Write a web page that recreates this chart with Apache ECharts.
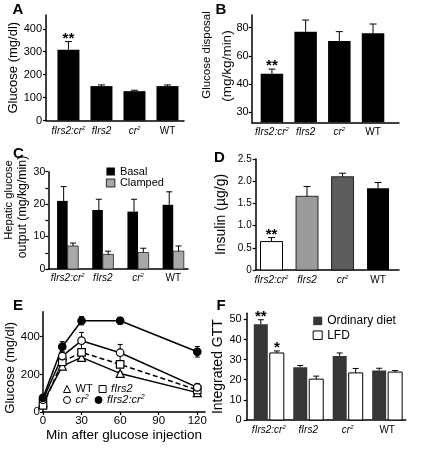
<!DOCTYPE html>
<html><head><meta charset="utf-8">
<script src="https://cdn.jsdelivr.net/npm/echarts@6/dist/echarts.min.js"></script>
<style>html,body{margin:0;padding:0;background:#fff}#c{width:428px;height:450px}</style>
</head><body><div id="c"></div>
<script>
// ---------- data ----------
const categories = ['fIrs2:cr2', 'fIrs2', 'cr2', 'WT'];

// A: fasting glucose (mg/dl)
const glucoseA = [309, 150, 128, 150];
const glucoseAErr = [35, 5, 4, 5];
const starsA = ['**', '', '', ''];
const ticksA = [0, 100, 200, 300, 400];

// B: glucose disposal (mg/kg/min)
const disposalB = [47.3, 77.2, 70.6, 76.0];
const disposalBErr = [3.3, 8.2, 6.6, 6.6];
const starsB = ['**', '', '', ''];
const tickValuesB = [20, 40, 60, 80];
const tickLabelsB = ['30', '40', '60', '80'];

// C: hepatic glucose output
const basalC = [21.0, 18.2, 17.7, 19.8];
const basalCErr = [4.4, 3.3, 3.8, 4.0];
const clampedC = [7.1, 4.5, 5.1, 5.5];
const clampedCErr = [0.9, 1.0, 1.3, 1.6];
const ticksC = [0, 10, 20, 30];
const minorTicksC = [0, 5, 10, 15, 20, 25, 30];

// D: insulin (ug/g)
const insulinD = [0.64, 1.66, 2.10, 1.84];
const insulinDErr = [0.09, 0.22, 0.08, 0.13];
const starsD = ['**', '', '', ''];
const ticksD = [0, 0.5, 1.0, 1.5, 2.0, 2.5];

// E: GTT time course
const timesE = [0, 15, 30, 60, 120];
const wtE = [50, 244, 290, 205, 103];
const wtEErr = [8, 8, 10, 8, 8];
const fIrs2E = [35, 267, 317, 253, 117];
const fIrs2EErr = [8, 10, 10, 10, 8];
const cr2E = [65, 297, 379, 315, 131];
const cr2EErr = [10, 15, 44, 44, 21];
const fIrs2cr2E = [75, 347, 485, 485, 320];
const fIrs2cr2EErr = [10, 27, 22, 18, 28];
const ticksEx = [0, 30, 60, 90, 120];
const ticksEy = [0, 200, 400];

// F: integrated GTT
const ordinaryF = [47.5, 26.2, 31.8, 24.6];
const ordinaryFErr = [2.3, 0.9, 1.5, 1.1];
const lfdF = [33.3, 20.3, 23.4, 23.8];
const lfdFErr = [1.0, 1.5, 2.2, 0.8];
const starsF1 = ['**', '', '', ''];
const starsF2 = ['*', '', '', ''];
const ticksF = [0, 10, 20, 30, 40, 50];

// ---------- helpers ----------
const FONT = '"Liberation Sans", Arial, Helvetica, sans-serif';
function richName(name) {
  if (name === 'WT') return '{n|WT}';
  if (name.endsWith('cr2')) return '{i|' + name.slice(0, -1) + '}{s|2}';
  return '{i|' + name + '}';
}
function richStyle(fs) {
  return {
    n: { fontSize: fs, fontFamily: FONT, color: '#000', lineHeight: fs + 2 },
    i: { fontSize: fs, fontFamily: FONT, fontStyle: 'italic', color: '#000', lineHeight: fs + 2 },
    s: { fontSize: Math.round(fs * 0.62), fontFamily: FONT, fontStyle: 'italic', color: '#000', lineHeight: 7, verticalAlign: 'top' }
  };
}
const AX_LINE = { show: true, onZero: false, lineStyle: { color: '#000', width: 1.5 } };

function catXAxis(gi, min, max, margin) {
  return {
    type: 'value', gridIndex: gi, min: min, max: max,
    axisLine: AX_LINE, axisTick: { show: false }, splitLine: { show: false },
    axisLabel: {
      customValues: [0, 1, 2, 3], margin: margin,
      formatter: v => richName(categories[Math.round(v)]), rich: richStyle(10)
    }
  };
}
function valYAxis(gi, min, max, ticks, opt) {
  return {
    type: 'value', gridIndex: gi, min: min, max: max,
    axisLine: AX_LINE,
    axisTick: { show: true, length: 3, lineStyle: { color: '#000', width: 1.2 }, customValues: opt.tickValues || ticks },
    splitLine: { show: false },
    axisLabel: {
      customValues: ticks, margin: opt.margin, fontSize: opt.fs || 11, color: '#000', fontFamily: FONT,
      formatter: opt.formatter || (v => String(v))
    },
    name: opt.name || '', nameLocation: 'middle', nameGap: opt.nameGap || 20,
    nameTextStyle: Object.assign({ fontSize: 13, color: '#000', fontFamily: FONT }, opt.nameStyle || {})
  };
}
function barSeries(gi, values, o) {
  return {
    type: 'custom', name: o.name, xAxisIndex: gi, yAxisIndex: gi, z: 2, silent: true,
    itemStyle: { color: o.fill, borderColor: o.stroke || o.fill, borderWidth: o.lw || 0 },
    data: values.map((v, i) => [i, v]),
    renderItem: (p, api) => {
      const x = api.value(0), v = api.value(1);
      const top = api.coord([x, v]), bot = api.coord([x, o.base]);
      return {
        type: 'rect',
        shape: { x: top[0] + o.offset - o.width / 2, y: top[1], width: o.width, height: bot[1] - top[1] },
        style: { fill: o.fill, stroke: o.stroke || null, lineWidth: o.lw || 0 }
      };
    }
  };
}
function errUp(gi, values, errs, offset, cap) {
  return {
    type: 'custom', xAxisIndex: gi, yAxisIndex: gi, z: 3, silent: true,
    data: values.map((v, i) => [i, v, errs[i]]),
    renderItem: (p, api) => {
      const x = api.value(0), v = api.value(1), e = api.value(2);
      const a = api.coord([x, v]), b = api.coord([x, v + e]);
      const cx = a[0] + offset;
      return {
        type: 'group', children: [
          { type: 'line', shape: { x1: cx, y1: a[1], x2: cx, y2: b[1] }, style: { stroke: '#000', lineWidth: 1 } },
          { type: 'line', shape: { x1: cx - cap / 2, y1: b[1], x2: cx + cap / 2, y2: b[1] }, style: { stroke: '#000', lineWidth: 1 } }
        ]
      };
    }
  };
}
function starSeries(gi, marks, values, errs, offset) {
  return {
    type: 'custom', xAxisIndex: gi, yAxisIndex: gi, z: 4, silent: true,
    data: values.map((v, i) => [i, v + errs[i]]),
    renderItem: (p, api) => {
      const m = marks[p.dataIndex];
      if (!m) return null;
      const c = api.coord([api.value(0), api.value(1)]);
      return {
        type: 'text', x: c[0] + offset, y: c[1] - 3,
        style: { text: m, fontSize: 15, fontWeight: 'bold', fontFamily: FONT, fill: '#000', align: 'center', verticalAlign: 'middle' }
      };
    }
  };
}
function errBoth(values, errs) {
  return {
    type: 'custom', xAxisIndex: 4, yAxisIndex: 4, z: 1, silent: true,
    data: timesE.map((t, i) => [t, values[i], errs[i]]),
    renderItem: (p, api) => {
      const t = api.value(0), v = api.value(1), e = api.value(2);
      const a = api.coord([t, v - e]), b = api.coord([t, v + e]);
      const cx = a[0], cap = 5;
      return {
        type: 'group', children: [
          { type: 'line', shape: { x1: cx, y1: a[1], x2: cx, y2: b[1] }, style: { stroke: '#000', lineWidth: 1 } },
          { type: 'line', shape: { x1: cx - cap / 2, y1: a[1], x2: cx + cap / 2, y2: a[1] }, style: { stroke: '#000', lineWidth: 1 } },
          { type: 'line', shape: { x1: cx - cap / 2, y1: b[1], x2: cx + cap / 2, y2: b[1] }, style: { stroke: '#000', lineWidth: 1 } }
        ]
      };
    }
  };
}
function lineSeries(name, values, symbol, fill, dashed) {
  return {
    type: 'line', name: name, xAxisIndex: 4, yAxisIndex: 4, z: 2, silent: true,
    data: timesE.map((t, i) => [t, values[i]]),
    symbol: symbol, symbolSize: symbol === 'triangle' ? 8 : 7.5, showAllSymbol: true,
    itemStyle: { color: fill, borderColor: '#000', borderWidth: 1.2 },
    lineStyle: { color: '#000', width: 1.5, type: dashed ? [5, 3] : 'solid' },
    animation: false
  };
}
function letter(t, x, y) {
  return { type: 'text', x: x, y: y, style: { text: t, fontSize: 15, fontWeight: 'bold', fontFamily: FONT, fill: '#000', verticalAlign: 'middle' } };
}
function vtitle(t, x, y, fs) {
  return {
    type: 'text', x: x, y: y, rotation: Math.PI / 2,
    style: { text: t, fontSize: fs, fontFamily: FONT, fill: '#000', align: 'center', verticalAlign: 'middle' }
  };
}

// ---------- chart ----------
const chart = echarts.init(document.getElementById('c'), null, { renderer: 'canvas' });
const option = {
  animation: false,
  backgroundColor: '#fff',
  textStyle: { fontFamily: FONT },
  grid: [
    { left: 46, top: 15, width: 138, height: 105.5 },        // A
    { left: 251.7, top: 15, width: 147.3, height: 107.3 },   // B
    { left: 48.3, top: 171.7, width: 139.7, height: 97.3 },  // C
    { left: 255.7, top: 159, width: 143.3, height: 111 },    // D
    { left: 43, top: 311.7, width: 162, height: 100.3 },     // E
    { left: 246.7, top: 313.3, width: 159, height: 106.7 }   // F
  ],
  xAxis: [
    catXAxis(0, -0.68, 3.5, 5),
    catXAxis(1, -0.6, 3.77, 4),
    catXAxis(2, -0.55, 3.42, 3),
    catXAxis(3, -0.445, 3.59, 4),
    {
      type: 'value', gridIndex: 4, min: 0, max: 126,
      axisLine: AX_LINE, splitLine: { show: false },
      axisTick: { show: true, length: 3, lineStyle: { color: '#000', width: 1.2 }, customValues: ticksEx },
      axisLabel: { customValues: ticksEx, margin: 3, fontSize: 11.5, color: '#000', fontFamily: FONT },
      name: 'Min after glucose injection', nameLocation: 'middle', nameGap: 15,
      nameTextStyle: { fontSize: 13.5, color: '#000', fontFamily: FONT }
    },
    catXAxis(5, -0.56, 3.47, 4)
  ],
  yAxis: [
    valYAxis(0, 0, 460, ticksA, { margin: 4, fs: 11, name: 'Glucose (mg/dl)', nameGap: 23 }),
    valYAxis(1, 12.9, 89, tickValuesB, {
      margin: 3, fs: 11, formatter: v => tickLabelsB[tickValuesB.indexOf(v)]
    }),
    valYAxis(2, 0, 30, ticksC, { margin: 3, fs: 10.5, tickValues: minorTicksC }),
    valYAxis(3, 0, 2.5, ticksD, {
      margin: 4, fs: 10, formatter: v => (v === 0 ? '0' : v.toFixed(1)),
      name: 'Insulin (µg/g)', nameGap: 28, nameStyle: { fontSize: 14 }
    }),
    valYAxis(4, 0, 533, ticksEy, {
      margin: 3, fs: 11.5, name: 'Glucose (mg/dl)', nameGap: 24,
      nameStyle: { fontSize: 13, padding: [0, 12, 0, 0] }
    }),
    valYAxis(5, 0, 53, ticksF, {
      margin: 5, fs: 11, name: 'Integrated GTT', nameGap: 19.5, nameStyle: { fontSize: 14 }
    })
  ],
  legend: [
    {
      left: 106, top: 166, orient: 'vertical', padding: 0, itemGap: 0.5, itemWidth: 8.5, itemHeight: 8,
      selectedMode: false, textStyle: { fontSize: 11, color: '#000', fontFamily: FONT, lineHeight: 11 },
      data: [
        { name: 'Basal', icon: 'rect', itemStyle: { color: '#000', borderWidth: 0 } },
        { name: 'Clamped', icon: 'rect', itemStyle: { color: '#a8a8a8', borderColor: '#000', borderWidth: 0.8 } }
      ]
    },
    {
      left: 312.7, top: 314.4, orient: 'vertical', padding: 0, itemGap: 1.3, itemWidth: 9, itemHeight: 8.5,
      selectedMode: false, textStyle: { fontSize: 12, color: '#000', fontFamily: FONT, lineHeight: 13 },
      data: [
        { name: 'Ordinary diet', icon: 'rect', itemStyle: { color: '#363636', borderWidth: 0 } },
        { name: 'LFD', icon: 'rect', itemStyle: { color: '#fff', borderColor: '#000', borderWidth: 1 } }
      ]
    },
    {
      left: 63, top: 382.5, orient: 'horizontal', padding: 0, itemGap: 6, itemWidth: 7, itemHeight: 7,
      selectedMode: false, formatter: n => richName(n),
      textStyle: { fontSize: 11, color: '#000', fontFamily: FONT, lineHeight: 11, rich: richStyle(11) },
      data: [
        { name: 'WT', icon: 'triangle', itemStyle: { color: '#fff', borderColor: '#000', borderWidth: 1 } },
        { name: 'fIrs2', icon: 'rect', itemStyle: { color: '#fff', borderColor: '#000', borderWidth: 1 } }
      ]
    },
    {
      left: 63, top: 393.5, orient: 'horizontal', padding: 0, itemGap: 6, itemWidth: 7, itemHeight: 7,
      selectedMode: false, formatter: n => richName(n),
      textStyle: { fontSize: 11, color: '#000', fontFamily: FONT, lineHeight: 11, rich: richStyle(11) },
      data: [
        { name: 'cr2', icon: 'circle', itemStyle: { color: '#fff', borderColor: '#000', borderWidth: 1 } },
        { name: 'fIrs2:cr2', icon: 'circle', itemStyle: { color: '#000', borderColor: '#000', borderWidth: 1 } }
      ]
    }
  ],
  graphic: [
    letter('A', 12.5, 10), letter('B', 215.5, 10), letter('C', 13, 154),
    letter('D', 214, 157.5), letter('E', 13, 306), letter('F', 216.5, 306),
    vtitle('Glucose disposal', 206.5, 55, 11.5),
    vtitle('(mg/kg/min)', 227, 66, 13.5),
    vtitle('Hepatic glucose', 9, 200, 11.2),
    vtitle('output (mg/kg/min)', 23, 207, 12.3)
  ],
  series: [
    // A
    barSeries(0, glucoseA, { width: 22, offset: 0, fill: '#000', base: 0 }),
    errUp(0, glucoseA, glucoseAErr, 0, 7),
    starSeries(0, starsA, glucoseA, glucoseAErr, 0),
    // B
    barSeries(1, disposalB, { width: 22.5, offset: 0, fill: '#000', base: 12.9 }),
    errUp(1, disposalB, disposalBErr, 0, 7),
    starSeries(1, starsB, disposalB, disposalBErr, 0),
    // C
    barSeries(2, basalC, { name: 'Basal', width: 10.6, offset: -5.3, fill: '#000', base: 0 }),
    barSeries(2, clampedC, { name: 'Clamped', width: 10.6, offset: 5.3, fill: '#a8a8a8', stroke: '#222', lw: 0.8, base: 0 }),
    errUp(2, basalC, basalCErr, -4, 6),
    errUp(2, clampedC, clampedCErr, 5.3, 6),
    // D
    barSeries(3, [insulinD[0], null, null, null], { width: 22, offset: 0, fill: '#fff', stroke: '#000', lw: 1, base: 0 }),
    barSeries(3, [null, insulinD[1], null, null], { width: 22, offset: 0, fill: '#9b9b9b', stroke: '#000', lw: 0.8, base: 0 }),
    barSeries(3, [null, null, insulinD[2], null], { width: 22, offset: 0, fill: '#5c5c5c', stroke: '#000', lw: 0.8, base: 0 }),
    barSeries(3, [null, null, null, insulinD[3]], { width: 22, offset: 0, fill: '#000', base: 0 }),
    errUp(3, insulinD, insulinDErr, 0, 7),
    starSeries(3, starsD, insulinD, insulinDErr, 0),
    // E
    errBoth(wtE, wtEErr), errBoth(fIrs2E, fIrs2EErr), errBoth(cr2E, cr2EErr), errBoth(fIrs2cr2E, fIrs2cr2EErr),
    lineSeries('WT', wtE, 'triangle', '#fff', false),
    lineSeries('fIrs2', fIrs2E, 'rect', '#fff', true),
    lineSeries('cr2', cr2E, 'circle', '#fff', false),
    lineSeries('fIrs2:cr2', fIrs2cr2E, 'circle', '#000', false),
    // F
    barSeries(5, ordinaryF, { name: 'Ordinary diet', width: 14, offset: -8, fill: '#363636', base: 0 }),
    barSeries(5, lfdF, { name: 'LFD', width: 14, offset: 8, fill: '#fff', stroke: '#000', lw: 1, base: 0 }),
    errUp(5, ordinaryF, ordinaryFErr, -8, 6),
    errUp(5, lfdF, lfdFErr, 8, 6),
    starSeries(5, starsF1, ordinaryF, ordinaryFErr, -8),
    starSeries(5, starsF2, lfdF, lfdFErr, 8)
  ]
};
chart.setOption(option);
</script>
</body></html>
